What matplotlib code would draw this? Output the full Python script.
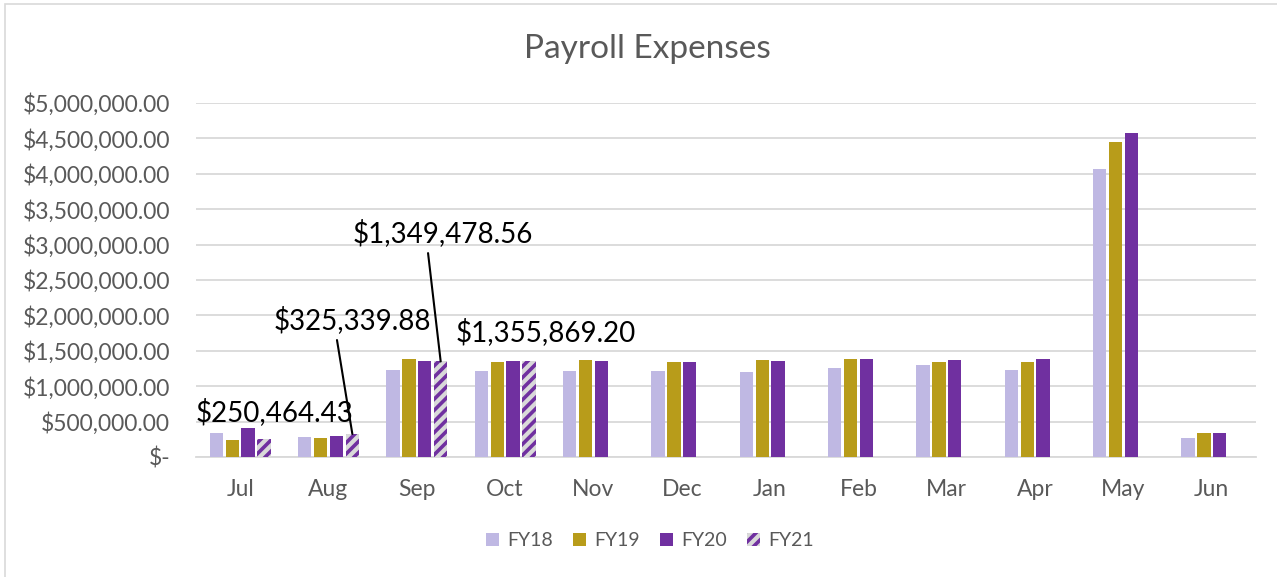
import matplotlib
matplotlib.use("Agg")
import matplotlib.pyplot as plt
import numpy as np
from matplotlib.patches import Rectangle
from matplotlib.ticker import FuncFormatter

plt.rcParams['hatch.linewidth'] = 2.6

months = ["Jul", "Aug", "Sep", "Oct", "Nov", "Dec", "Jan", "Feb", "Mar", "Apr", "May", "Jun"]
series_names = ["FY18", "FY19", "FY20", "FY21"]
fy18 = [340000, 280000, 1230000, 1215000, 1210000, 1215000, 1200000, 1260000, 1300000, 1225000, 4070000, 265000]
fy19 = [240000, 270000, 1385000, 1345000, 1365000, 1345000, 1365000, 1380000, 1345000, 1335000, 4450000, 335000]
fy20 = [410000, 295000, 1355000, 1350000, 1360000, 1340000, 1360000, 1390000, 1370000, 1380000, 4570000, 335000]
fy21 = [250464.43, 325339.88, 1349478.56, 1355869.20]
yticks = [0, 500000, 1000000, 1500000, 2000000, 2500000, 3000000, 3500000, 4000000, 4500000, 5000000]

c18 = "#BFB8E3"
c19 = "#B89C1A"
c20 = "#7030A0"
grey_text = "#595959"
FONT = "Lato"

fig = plt.figure(figsize=(12.77, 5.77), dpi=100)
ax = fig.add_axes([196/1277, 1-457/577, (1256-196)/1277, (457-103)/577])

x = np.arange(len(months))
slot = 0.18
w = 0.15
ax.bar(x - 1.5*slot, fy18, w, color=c18, label="FY18", zorder=3)
ax.bar(x - 0.5*slot, fy19, w, color=c19, label="FY19", zorder=3)
ax.bar(x + 0.5*slot, fy20, w, color=c20, label="FY20", zorder=3)
x21 = np.arange(len(fy21))
ax.bar(x21 + 1.5*slot, fy21, w, facecolor="#D9D9D9", edgecolor=c20, hatch="///",
       linewidth=0, label="FY21", zorder=3)

ax.set_xlim(-0.5, len(months)-0.5)
ax.set_ylim(0, 5000000)
ax.set_yticks(yticks)

def fmt(v, pos):
    if v == 0:
        return "$-"
    return "${:,.2f}".format(v)
ax.yaxis.set_major_formatter(FuncFormatter(fmt))
ax.set_xticks(x)
ax.set_xticklabels(months)
ax.tick_params(axis='both', length=0, labelsize=16.5, labelcolor=grey_text)
ax.tick_params(axis='x', pad=16)
ax.tick_params(axis='y', pad=18.5)
for lab in ax.get_xticklabels() + ax.get_yticklabels():
    lab.set_fontfamily(FONT)

ax.grid(axis='y', color="#D9D9D9", linewidth=1.3, zorder=0)
for s in ["top", "right", "left"]:
    ax.spines[s].set_visible(False)
ax.spines["bottom"].set_color("#D9D9D9")
ax.spines["bottom"].set_linewidth(1.3)

fig.text(647/1277, 1-49/577, "Payroll Expenses", ha="center", va="center",
         fontsize=24, color=grey_text, fontfamily=FONT)

# data labels
lab_kw = dict(fontsize=20, color="black", fontfamily=FONT, ha="center", va="center")
ax.text(0.394, 636000, "${:,.2f}".format(fy21[0]), **lab_kw)
ax.text(1.266, 1935000, "${:,.2f}".format(fy21[1]), **lab_kw)
ax.text(2.296, 3164000, "${:,.2f}".format(fy21[2]), **lab_kw)
ax.text(3.462, 1766000, "${:,.2f}".format(fy21[3]), **lab_kw)
line_kw = dict(arrowprops=dict(arrowstyle="-", color="black", lw=1.5, shrinkA=0, shrinkB=0))
ax.annotate("", xy=(1 + 1.5*slot, fy21[1]), xytext=(1.096, 1652000), **line_kw)
ax.annotate("", xy=(2 + 1.5*slot, fy21[2]), xytext=(2.127, 2880000), **line_kw)

leg = fig.legend(loc="center", bbox_to_anchor=(650/1277, 1-541/577), ncol=4, frameon=False,
                 prop={"family": FONT, "size": 14}, handlelength=0.67, handleheight=0.67,
                 columnspacing=1.05, handletextpad=0.4)
for t in leg.get_texts():
    t.set_color(grey_text)

fig.patches.append(Rectangle((5/1277, -0.01), 1.02, 1-4/577 + 0.01, transform=fig.transFigure,
                             fill=False, edgecolor="#D9D9D9", linewidth=1.2))

fig.savefig("out.png", dpi=100)
